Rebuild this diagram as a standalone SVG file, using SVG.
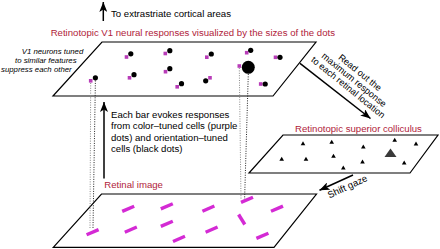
<svg xmlns="http://www.w3.org/2000/svg" width="440" height="249" viewBox="0 0 440 249">
<style>
.plane{fill:#fff;stroke:#000;stroke-width:1.2;stroke-linejoin:miter}
.t{font-family:"Liberation Sans",Arial,sans-serif;font-size:9.6px;fill:#000}
.red{fill:#b0223a}
.it{font-style:italic;font-size:7.8px}
.arrow{stroke:#000;stroke-width:1.5;fill:none;marker-end:url(#ah)}
.dotk{stroke:#222;stroke-width:1;stroke-dasharray:1 1.4;fill:none}
.dotp{stroke:#888;stroke-width:1;stroke-dasharray:1 1.4;fill:none}
.sq{fill:#b83cb8}
.bk{fill:#000}
.bar{stroke:#d42ad4;stroke-width:3.4;stroke-linecap:butt}
</style>
<defs>
<marker id="ah" markerUnits="userSpaceOnUse" markerWidth="11" markerHeight="8" refX="10" refY="4" orient="auto">
<path d="M0,0 L10,4 L0,8 L2.5,4 z" fill="#000"/>
</marker>
<path id="tri" d="M0,-2.3 L2.3,1.7 L-2.3,1.7 z" fill="#000"/>
<rect id="sq" x="-1.8" y="-1.8" width="3.6" height="3.6" class="sq"/>
<circle id="dk" r="2.6" class="bk"/>
<line id="bar" x1="-6" y1="2.6" x2="6" y2="-2.6" class="bar"/>
</defs>

<g id="plane-v1">
<polygon class="plane" points="102,42 316,42 273,96 53,96"/>
<use href="#sq" x="126.5" y="57"/><use href="#dk" x="130.8" y="53.8"/>
<use href="#sq" x="165.3" y="53.5"/><use href="#dk" x="169.8" y="50.7"/>
<use href="#sq" x="165.5" y="71.7"/><use href="#dk" x="169.8" y="68.7"/>
<use href="#sq" x="129.5" y="77.8"/><use href="#dk" x="134" y="74.7"/>
<use href="#sq" x="90.7" y="80.8"/><use href="#dk" x="95.4" y="77.8"/>
<use href="#sq" x="177.2" y="86.8"/><use href="#dk" x="181.5" y="83.7"/>
<use href="#sq" x="206.8" y="57.2"/><use href="#dk" x="211.3" y="54"/>
<use href="#sq" x="246.7" y="52.7"/><use href="#dk" x="250.7" y="50.3"/>
<use href="#sq" x="275.5" y="57.3"/><use href="#dk" x="280" y="57.3"/>
<use href="#sq" x="210" y="77.8"/><use href="#dk" x="205.7" y="80.8"/>
<use href="#sq" x="260.7" y="84"/><use href="#dk" x="265.2" y="84"/>
<use href="#sq" x="239.3" y="66"/><circle cx="248.3" cy="67.3" r="6.5" class="bk"/>
</g>

<g id="plane-sc">
<polygon class="plane" points="283,135 438,135 410,173 249,173"/>
<use href="#tri" x="303" y="143.5"/>
<use href="#tri" x="331.7" y="142"/>
<use href="#tri" x="363.3" y="146.8"/>
<use href="#tri" x="394.7" y="140"/>
<use href="#tri" x="416" y="143.8"/>
<use href="#tri" x="281.7" y="159"/>
<use href="#tri" x="306" y="159"/>
<use href="#tri" x="333.5" y="156"/>
<use href="#tri" x="362.5" y="161.8"/>
<use href="#tri" x="343.3" y="167.7"/>
<use href="#tri" x="404.2" y="162.7"/>
<path d="M390.5,148.5 L396.5,157 L384.5,157 z" fill="#3a3a3a"/>
</g>

<g id="plane-retina">
<polygon class="plane" points="101.5,194 316.5,194 274,247.3 53.3,247.3"/>
<use href="#bar" x="128.2" y="208.8"/>
<use href="#bar" x="166.8" y="206.3"/>
<use href="#bar" x="208.4" y="208.6"/>
<use href="#bar" x="247" y="199.8"/>
<use href="#bar" x="277" y="208.7"/>
<use href="#bar" x="92.6" y="232.2"/>
<use href="#bar" x="130.8" y="229.6"/>
<use href="#bar" x="166.8" y="223.8"/>
<use href="#bar" x="211.6" y="229.6"/>
<use href="#bar" x="179" y="238.9"/>
<use href="#bar" x="262.4" y="235.8"/>
<line x1="238.6" y1="214.5" x2="244.8" y2="224.5" class="bar"/>
</g>

<g id="connectors">
<line class="dotp" x1="90.7" y1="83" x2="90" y2="228"/>
<line class="dotk" x1="95.4" y1="80.5" x2="93" y2="228"/>
<line class="dotp" x1="239.3" y1="68" x2="241" y2="199"/>
<line class="dotk" x1="248.3" y1="74" x2="244.6" y2="199"/>
<line class="arrow" x1="103.3" y1="21" x2="103.3" y2="2"/>
<line class="arrow" x1="104" y1="178.5" x2="104" y2="102"/>
<line class="arrow" x1="300" y1="63.3" x2="370.5" y2="118.5"/>
<line class="arrow" x1="353" y1="175" x2="319.5" y2="190.2"/>
</g>

<g id="labels">
<text class="t" x="111" y="16.5">To extrastriate cortical areas</text>
<text class="t red" x="50.7" y="35.7">Retinotopic V1 neural responses visualized by the sizes of the dots</text>
<text class="t it" x="21.7" y="54">V1 neurons tuned</text>
<text class="t it" x="15" y="63">to similar features</text>
<text class="t it" x="1" y="72">suppress each other</text>
<g transform="translate(354,80) rotate(39)">
<text class="t" text-anchor="middle" x="0" y="-6.5" style="font-size:9.2px">Read out the</text>
<text class="t" text-anchor="middle" x="0" y="3" style="font-size:9.2px">maximum response</text>
<text class="t" text-anchor="middle" x="0" y="12.5" style="font-size:9.2px">to each retinal location</text>
</g>
<text class="t" x="111" y="117.5">Each bar evokes responses</text>
<text class="t" x="111" y="129">from color–tuned cells (purple</text>
<text class="t" x="111" y="140.5">dots) and orientation–tuned</text>
<text class="t" x="111" y="152">cells (black dots)</text>
<text class="t red" x="295" y="131.7">Retinotopic superior colliculus</text>
<text class="t red" x="104.3" y="187.7">Retinal image</text>
<text class="t" x="329.5" y="198.5" transform="rotate(-25 329.5 198.5)">Shift gaze</text>
</g>
</svg>
